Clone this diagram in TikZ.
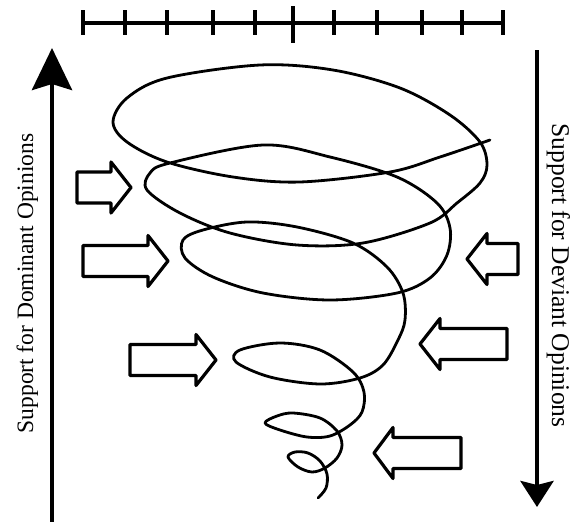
\documentclass[tikz,border=0pt]{standalone}
\usepackage{fontspec}
\setmainfont{Liberation Serif}
\usetikzlibrary{arrows.meta}
\tikzset{
  spiral/.style={line width=2.8pt, line join=round, line cap=round},
  blockarrow/.style={draw, line width=3.2pt, line join=round, fill=white},
  axis/.style={line width=4.5pt},
  ruler/.style={line width=3.6pt}
}
% block arrow: tail x, head base x, tip x, centre y
\newcommand{\fatarrow}[4]{%
  \draw[blockarrow] (#1,#4-15.5) -- (#2,#4-15.5) -- (#2,#4-25.5) -- (#3,#4)
    -- (#2,#4+25.5) -- (#2,#4+15.5) -- (#1,#4+15.5) -- cycle;}
\begin{document}
\begin{tikzpicture}[x=1pt, y=-1pt]
\useasboundingbox (0,0) rectangle (579,522);
% scale on top
\draw[ruler] (83,23) -- (503,23);
\foreach \t in {83,125,167,213,255,334,377,422,462,503}
  \draw[ruler] (\t,10) -- (\t,35);
\draw[ruler] (293,6) -- (293,43);
% the two axes
\coordinate (dombot) at (52,524);
\coordinate (domtop) at (52,48);
\coordinate (devtop) at (537,50);
\coordinate (devbot) at (537,507);
\draw[axis, -{Stealth[length=42pt, width=40pt, inset=6pt]}] (dombot) -- (domtop);
\draw[axis, -{Stealth[length=26pt, width=33pt, inset=4pt]}] (devtop) -- (devbot);
\node[rotate=90, anchor=base, font=\fontsize{23.5}{24}\selectfont] (dom) at (33,283.5) {Support for Dominant Opinions};
\node[rotate=-90, anchor=base, font=\fontsize{25.5}{26}\selectfont] (dev) at (552,275.5) {Support for Deviant Opinions};
% pressure arrows
\fatarrow{77}{111}{131}{187.5}
\fatarrow{83}{148}{168}{261}
\fatarrow{130}{196}{216}{360}
\fatarrow{518}{487}{467}{259}
\fatarrow{507}{440}{420}{344}
\fatarrow{461}{393}{374}{453}
% the spiral
\draw[spiral] plot[smooth, tension=0.55] coordinates {
  (490,140) (440,157) (390,172) (300,182) (233,177) (167,162) (127,142)
  (113,122) (127,98) (167,78) (260,65) (333,70) (400,88) (450,115)
  (480,142) (487,165) (480,183) (457,203) (430,223) (363,243) (297,245)
  (230,233) (180,213) (147,190) (150,173) (170,163) (263,145) (330,157)
  (397,177) (437,203) (450,228) (447,255) (430,278) (397,293) (330,300)
  (263,293) (213,277) (185,258) (183,240) (203,230) (247,222) (297,227)
  (353,243) (387,267) (403,293) (405,320) (398,340) (383,365) (360,378)
  (320,384) (270,377) (236,362) (240,350) (280,343) (320,350) (353,372)
  (364,392) (362,412) (350,425) (330,436) (307,437) (280,430) (265,423)
  (277,416) (293,413) (320,418) (337,431) (342,445) (337,458) (325,468)
  (312,472) (298,467) (288,457) (295,452) (308,453) (320,461) (327,474)
  (326,488) (318,498)};
\end{tikzpicture}
\end{document}
